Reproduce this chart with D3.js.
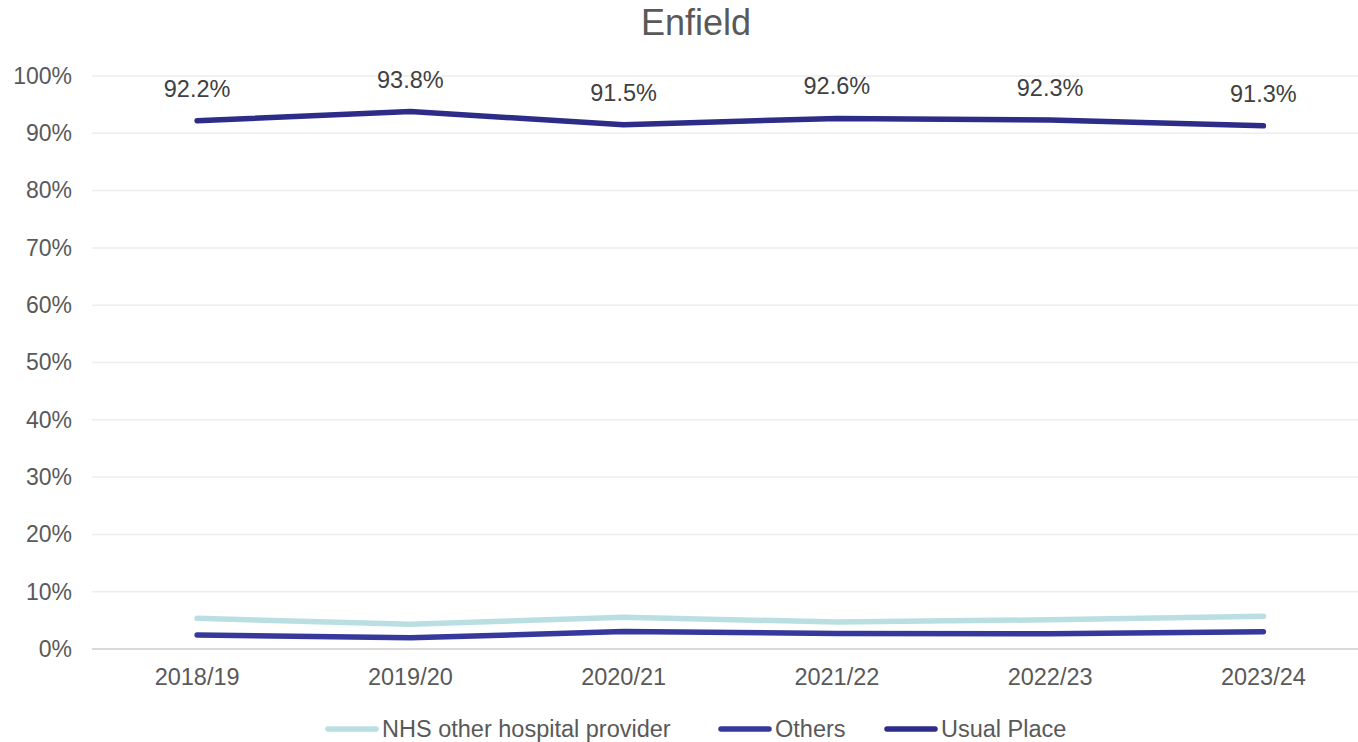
<!DOCTYPE html>
<html>
<head>
<meta charset="utf-8">
<script src="https://cdn.jsdelivr.net/npm/d3@7"></script>
<style>
  html, body { margin: 0; padding: 0; background: #fff; }
  svg { display: block; font-family: "Liberation Sans", Arial, sans-serif; }
</style>
</head>
<body>
<svg id="chart" width="1358" height="742"></svg>
<script>
// Discharge destination shares by year, Enfield
const years = ["2018/19", "2019/20", "2020/21", "2021/22", "2022/23", "2023/24"];
const nhsOther = [5.35, 4.3, 5.55, 4.7, 5.1, 5.7];
const others = [2.45, 1.95, 3.05, 2.7, 2.65, 3.0];
const usualPlace = [92.2, 93.8, 91.5, 92.6, 92.3, 91.3];
const yTicks = [0, 10, 20, 30, 40, 50, 60, 70, 80, 90, 100];

const series = [
  { name: "NHS other hospital provider", values: nhsOther, color: "#BADFE2", labels: false },
  { name: "Others", values: others, color: "#36389C", labels: false },
  { name: "Usual Place", values: usualPlace, color: "#2D2C88", labels: true }
];

const svg = d3.select("#chart");
const textColor = "#595959";

const x = d3.scaleBand().domain(years).range([90.5, 1370]);
const y = d3.scaleLinear().domain([0, 100]).range([649, 76]);
const cx = d => x(d) + x.bandwidth() / 2;

// Title
svg.append("text")
  .attr("x", 696).attr("y", 35)
  .attr("text-anchor", "middle")
  .attr("fill", textColor)
  .style("font-size", "36px")
  .text("Enfield");

// Horizontal gridlines
svg.append("g")
  .selectAll("line")
  .data(yTicks)
  .join("line")
  .attr("x1", 92).attr("x2", 1370)
  .attr("y1", d => y(d)).attr("y2", d => y(d))
  .attr("stroke", d => d === 0 ? "#D9D9D9" : "#EDEDED")
  .attr("stroke-width", d => d === 0 ? 2 : 1.5);

// Y axis labels
const yAxis = d3.axisLeft(y).tickValues(yTicks).tickFormat(d => d + "%").tickSize(0).tickPadding(0);
svg.append("g")
  .attr("transform", "translate(72,0)")
  .call(yAxis)
  .call(g => g.select(".domain").remove())
  .call(g => g.selectAll("text")
    .attr("fill", textColor)
    .style("font-size", "23px")
    .style("font-family", "'Liberation Sans', Arial, sans-serif"));

// X axis labels
const xAxis = d3.axisBottom(x).tickSize(0).tickPadding(0);
svg.append("g")
  .attr("transform", "translate(0,668)")
  .call(xAxis)
  .call(g => g.select(".domain").remove())
  .call(g => g.selectAll("text")
    .attr("fill", textColor)
    .style("font-size", "23.5px")
    .style("font-family", "'Liberation Sans', Arial, sans-serif"));

// Series lines
const line = d3.line()
  .x((d, i) => cx(years[i]))
  .y(d => y(d));

svg.append("g")
  .selectAll("path")
  .data(series)
  .join("path")
  .attr("d", s => line(s.values))
  .attr("fill", "none")
  .attr("stroke", s => s.color)
  .attr("stroke-width", 5.5)
  .attr("stroke-linecap", "round")
  .attr("stroke-linejoin", "round");

// Data labels for Usual Place
series.filter(s => s.labels).forEach(s => {
  svg.append("g")
    .selectAll("text")
    .data(s.values)
    .join("text")
    .attr("x", (d, i) => cx(years[i]))
    .attr("y", d => y(d) - 24)
    .attr("text-anchor", "middle")
    .attr("fill", "#404040")
    .style("font-size", "23.5px")
    .text(d => d.toFixed(1) + "%");
});

// Legend
const legendItems = [
  { s: series[0], x: 325 },
  { s: series[1], x: 718 },
  { s: series[2], x: 884 }
];
const lg = svg.append("g");
legendItems.forEach(it => {
  lg.append("line")
    .attr("x1", it.x + 3).attr("x2", it.x + 51)
    .attr("y1", 729).attr("y2", 729)
    .attr("stroke", it.s.color)
    .attr("stroke-width", 5.5)
    .attr("stroke-linecap", "round");
  lg.append("text")
    .attr("x", it.x + 57).attr("y", 737)
    .attr("fill", textColor)
    .style("font-size", "23.5px")
    .text(it.s.name);
});
</script>
</body>
</html>
